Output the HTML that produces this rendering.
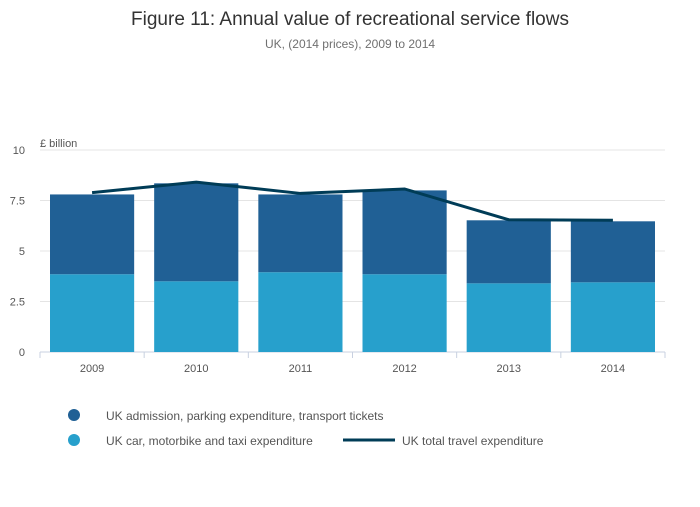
<!DOCTYPE html>
<html><head><meta charset="utf-8"><style>
body{margin:0;background:#fff;font-family:"Liberation Sans",sans-serif}
svg text{font-family:"Liberation Sans",sans-serif}
</style></head><body>
<svg width="700" height="502">
<text x="350" y="25" text-anchor="middle" font-size="19" fill="#333">Figure 11: Annual value of recreational service flows</text>
<text x="350" y="48" text-anchor="middle" font-size="12" fill="#707070">UK, (2014 prices), 2009 to 2014</text>
<text x="40" y="147" font-size="11" fill="#555">£ billion</text>
<g id="grid"></g><g id="bars"></g><g id="line"></g><g id="xaxis"></g>
<circle cx="74" cy="415" r="6" fill="#206095"/>
<text x="106" y="420" font-size="12" fill="#555">UK admission, parking expenditure, transport tickets</text>
<circle cx="74" cy="440" r="6" fill="#27a0cc"/>
<text x="106" y="445" font-size="12" fill="#555">UK car, motorbike and taxi expenditure</text>
<line x1="343" y1="440" x2="395" y2="440" stroke="#003c57" stroke-width="3"/>
<text x="402" y="445" font-size="12" fill="#555">UK total travel expenditure</text>
</svg>
<script>
const categories=["2009","2010","2011","2012","2013","2014"];
const carValues=[3.85,3.5,3.95,3.85,3.4,3.45];
const admissionValues=[3.95,4.85,3.85,4.15,3.12,3.02];
const totalValues=[7.89,8.41,7.85,8.07,6.55,6.52];
const yTicks=[0,2.5,5,7.5,10];
const yTickLabels=["0","2.5","5","7.5","10"];
const NS="http://www.w3.org/2000/svg";
const x0=40,x1=665,y0=352,yTop=150;
const band=(x1-x0)/categories.length;
const yS=v=>y0-(v/10)*(y0-yTop);
const xC=i=>x0+band*(i+0.5);
function mk(t,a,p){const e=document.createElementNS(NS,t);for(const k in a)e.setAttribute(k,a[k]);document.getElementById(p).appendChild(e);return e;}
yTicks.forEach((v,i)=>{
 const l=mk('line',{x1:x0,x2:x1,y1:yS(v),y2:yS(v),stroke:i?'#e4e4e4':'#c8d0e0','stroke-width':1},'grid');
 
 
 const t=mk('text',{x:25,y:yS(v)+4,'text-anchor':'end','font-size':11,fill:'#555'},'grid');
 t.textContent=yTickLabels[i];
 
 
});
categories.forEach((c,i)=>{
 const bx=x0+band*i+10,bw=band-20;
 const r1=mk('rect',{x:bx,width:bw,y:yS(carValues[i]),height:y0-yS(carValues[i]),fill:'#27a0cc'},'bars');
 
 
 const top=carValues[i]+admissionValues[i];
 const r2=mk('rect',{x:bx,width:bw,y:yS(top),height:yS(carValues[i])-yS(top),fill:'#206095'},'bars');
 
 
 const tk=mk('line',{x1:x0+band*i,x2:x0+band*i,y1:y0,y2:y0+6,stroke:'#c8d0e0'},'xaxis');
 
 
 const t=mk('text',{x:xC(i),y:y0+20,'text-anchor':'middle','font-size':11,fill:'#555'},'xaxis');
 t.textContent=c;
 
 
});
const et=mk('line',{x1:x1,x2:x1,y1:y0,y2:y0+6,stroke:'#c8d0e0'},'xaxis');


const pl=mk('polyline',{points:totalValues.map((v,i)=>xC(i)+','+yS(v)).join(' '),fill:'none',stroke:'#003c57','stroke-width':3},'line');


</script>
</body></html>
